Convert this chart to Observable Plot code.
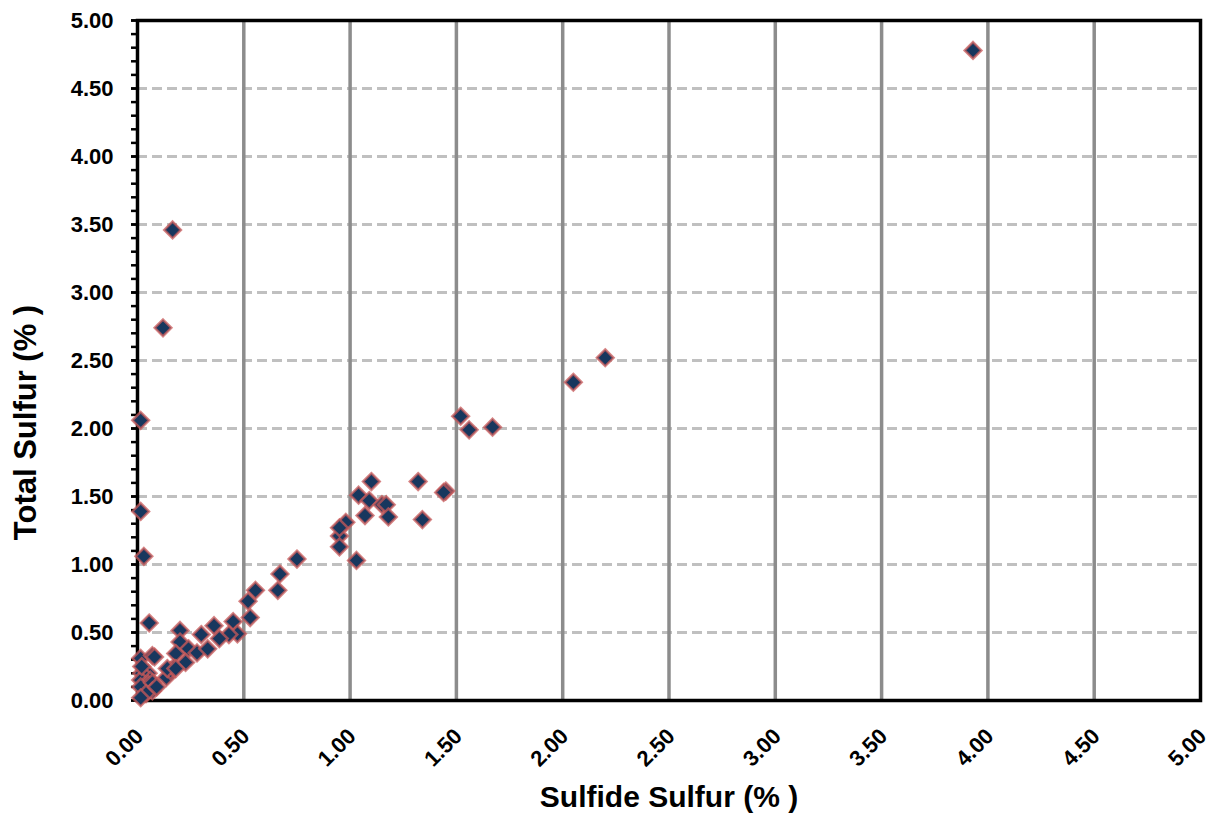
<!DOCTYPE html>
<html>
<head>
<meta charset="utf-8">
<script src="https://cdn.jsdelivr.net/npm/d3@7"></script>
<script src="https://cdn.jsdelivr.net/npm/@observablehq/plot@0.6"></script>
<style>
  html, body { margin: 0; padding: 0; background: #fff; }
  #chart { width: 1212px; height: 825px; }
</style>
</head>
<body>
<div id="chart"></div>
<script>
// Sulfide sulfur (%) — x values
const sulfideSulfur = [
  3.93, 0.165, 0.12, 0.015, 0.015, 0.03, 0.055,
  2.20, 2.05, 1.52, 1.56, 1.67, 1.45, 1.44, 1.32, 1.34, 1.10, 1.04, 1.09, 1.15, 1.17, 1.18, 1.07, 0.98, 0.95, 0.95, 0.95, 1.03,
  0.75, 0.67, 0.66, 0.555, 0.52, 0.53,
  0.45, 0.47, 0.43, 0.385, 0.36, 0.30, 0.20, 0.20, 0.24, 0.28, 0.33, 0.18, 0.226,
  0.136, 0.155, 0.17, 0.14, 0.18,
  0.015, 0.07, 0.08, 0.02, 0.05, 0.04, 0.015, 0.06, 0.05, 0.015, 0.07, 0.07, 0.04, 0.015, 0.02, 0.09
];
// Total sulfur (%) — y values
const totalSulfur = [
  4.78, 3.46, 2.74, 2.06, 1.39, 1.06, 0.57,
  2.52, 2.34, 2.09, 1.99, 2.01, 1.54, 1.53, 1.61, 1.33, 1.61, 1.51, 1.47, 1.44, 1.44, 1.35, 1.36, 1.31, 1.21, 1.13, 1.27, 1.03,
  1.04, 0.93, 0.81, 0.81, 0.73, 0.61,
  0.58, 0.49, 0.485, 0.455, 0.55, 0.485, 0.515, 0.43, 0.38, 0.35, 0.38, 0.345, 0.28,
  0.17, 0.22, 0.24, 0.235, 0.235,
  0.31, 0.33, 0.32, 0.20, 0.20, 0.17, 0.15, 0.15, 0.12, 0.10, 0.13, 0.07, 0.05, 0.02, 0.25, 0.10
];
const xTicks = [0, 0.5, 1, 1.5, 2, 2.5, 3, 3.5, 4, 4.5, 5];
const yTicks = [0, 0.5, 1, 1.5, 2, 2.5, 3, 3.5, 4, 4.5, 5];
const yMinorTicks = d3.range(0, 51).map(i => i / 10);
const xTitle = "Sulfide Sulfur (% )";
const yTitle = "Total Sulfur (% )";

const data = sulfideSulfur.map((x, i) => ({x, y: totalSulfur[i]}));
const fmt = d3.format(".2f");

const chart = Plot.plot({
  width: 1212,
  height: 825,
  marginLeft: 137,
  marginRight: 12,
  marginTop: 20,
  marginBottom: 125,
  style: {fontFamily: "'Liberation Sans', Arial, sans-serif", fontWeight: "bold", fontSize: "22px", color: "#000", background: "#fff"},
  x: {domain: [0, 5]},
  y: {domain: [0, 5]},
  marks: [
    Plot.gridY(yTicks.filter(d => d > 0 && d < 5), {stroke: "#c0c0c0", strokeOpacity: 1, strokeWidth: 3, strokeDasharray: "10,5"}),
    Plot.gridX(xTicks.filter(d => d > 0 && d < 5), {stroke: "#8c8c8c", strokeOpacity: 1, strokeWidth: 3.5}),
    Plot.axisY(yMinorTicks, {tickSize: 6, tickFormat: () => "", strokeWidth: 2.5, label: null}),
    Plot.axisY(yTicks, {tickSize: 6, tickPadding: 18, tickFormat: fmt, strokeWidth: 2.5, label: null, fontSize: 22, fontWeight: "bold"}),
    Plot.axisX(xTicks, {tickSize: 0, tickPadding: 0, tickFormat: fmt, rotate: -45, textAnchor: "end", dy: 26, dx: -4, label: null, fontSize: 22, fontWeight: "bold"}),
    Plot.frame({stroke: "#000", strokeWidth: 3.5}),
    Plot.dot(data, {x: "x", y: "y", symbol: "diamond2", r: 7.5, fill: "#17375e", stroke: "#c85a5a", strokeOpacity: 0.75, strokeWidth: 2.5}),
    Plot.text([yTitle], {frameAnchor: "left", textAnchor: "middle", dx: -111, dy: 62, rotate: -90, fontSize: 31, fontWeight: "bold", fill: "#000"}),
    Plot.text([xTitle], {frameAnchor: "bottom", textAnchor: "middle", dy: 106, fontSize: 30, fontWeight: "bold", fill: "#000"})
  ]
});
document.getElementById("chart").appendChild(chart);
</script>
</body>
</html>
